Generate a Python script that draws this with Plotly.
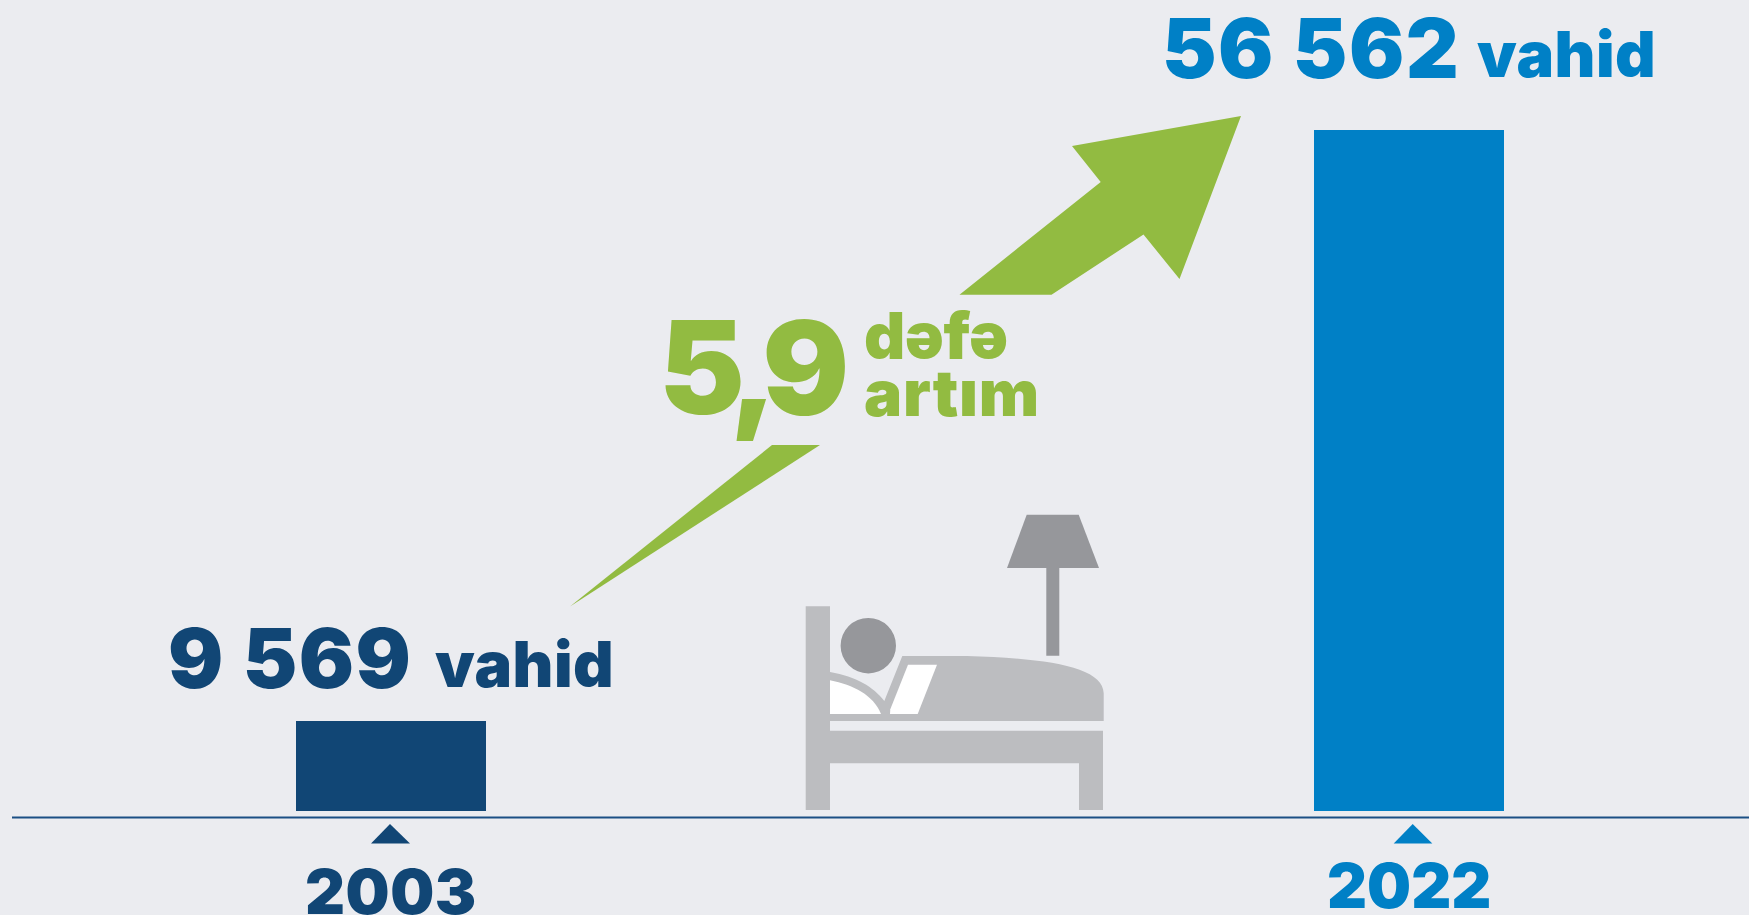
import plotly.graph_objects as go

# ---- data ----
years = [2003, 2022]
units = [9569, 56562]
bar_colors = ["#114675", "#0080C6"]
growth_label = "5,9"
growth_words = ["dəfə", "artım"]
unit_word = "vahid"

BG = "#EBECF0"
NAVY, BLUE = bar_colors
GREEN = "#92BB41"
BED = "#BCBDC0"
DARK = "#96979B"
AXIS = "#1B4F84"
FONT = "Inter"

W, H = 1749, 915
# linear scales fitted to the picture
px_per_year = (1409 - 391) / (years[1] - years[0])
x0 = years[0] - 391 / px_per_year
x1 = x0 + W / px_per_year
units_per_px = (units[1] - units[0]) / (721 - 130)
y_top = units[1] + 130 * units_per_px
y_bot = y_top - H * units_per_px
bar_base = y_top - 811 * units_per_px

fig = go.Figure()
fig.add_trace(go.Bar(x=years, y=[u - bar_base for u in units], base=bar_base,
                     width=190 / px_per_year, marker=dict(color=bar_colors, line_width=0),
                     hoverinfo="skip"))
# invisible overlay in page pixels, only for the decorations
fig.add_trace(go.Scatter(x=[0], y=[0], xaxis="x2", yaxis="y2", mode="markers",
                         marker=dict(opacity=0), hoverinfo="skip"))


def poly(pts, color):
    d = "M " + " L ".join(f"{x},{y}" for x, y in pts) + " Z"
    return dict(type="path", path=d, xref="x2", yref="y2", fillcolor=color, line_width=0)


def bed_pt(x, y):  # bed icon outline measured on a 3x crop
    return f"{780 + x / 3:.1f},{490 + y / 3:.1f}"


blanket = ("M " + bed_pt(150, 546) + " C " + bed_pt(230, 560) + " " + bed_pt(280, 590) + " " + bed_pt(313, 633)
           + " L " + bed_pt(367, 498) + " L " + bed_pt(560, 498)
           + " C " + bed_pt(800, 505) + " " + bed_pt(970, 530) + " " + bed_pt(971, 610)
           + " L " + bed_pt(971, 693) + " L " + bed_pt(150, 693) + " Z")
pillow = ("M " + bed_pt(150, 571) + " C " + bed_pt(220, 585) + " " + bed_pt(280, 615) + " " + bed_pt(303, 672)
          + " L " + bed_pt(150, 672) + " Z")
book = ("M " + bed_pt(384, 524) + " L " + bed_pt(471, 524) + " L " + bed_pt(413, 672)
        + " L " + bed_pt(330, 672) + " L " + bed_pt(331, 658) + " Z")

shapes = [
    dict(type="line", xref="x2", yref="y2", x0=12, x1=W, y0=817.5, y1=817.5, line=dict(color=AXIS, width=2)),
    poly([(371, 843.5), (390, 824), (410, 843.5)], NAVY),
    poly([(1393.7, 843.5), (1412.7, 824), (1432.3, 843.5)], BLUE),
    # growth arrow
    poly([(959.5, 294.7), (1100.7, 182), (1072, 146), (1241, 116), (1179.5, 279), (1143.5, 234.5), (1051.5, 294.7)], GREEN),
    poly([(772, 445), (820, 445), (570, 606.5)], GREEN),
    # bed
    poly([(805.7, 606.3), (830, 606.3), (830, 810), (805.7, 810)], BED),
    poly([(830, 730.7), (1103, 730.7), (1103, 810), (1079, 810), (1079, 763.3), (830, 763.3)], BED),
    dict(type="path", path=blanket, xref="x2", yref="y2", fillcolor=BED, line_width=0),
    dict(type="path", path=pillow, xref="x2", yref="y2", fillcolor="white", line_width=0),
    dict(type="path", path=book, xref="x2", yref="y2", fillcolor="white", line_width=0),
    dict(type="circle", xref="x2", yref="y2", x0=840.6, x1=896, y0=618, y1=673.4, fillcolor=DARK, line_width=0),
    # lamp
    poly([(1026.7, 514.7), (1078.7, 514.7), (1099, 568), (1007, 568)], DARK),
    poly([(1046.3, 568), (1059.3, 568), (1059.3, 655.7), (1046.3, 655.7)], DARK),
]


def label(text, x, y, size, color, anchor="left", xref="x2", spacing=0):
    if spacing:
        text = f'<span style="letter-spacing:{spacing}px">{text}</span>'
    return dict(text=text, x=x, y=y, xref=xref, yref="y2", xanchor=anchor, yanchor="middle",
                showarrow=False, borderpad=0,
                font=dict(family=FONT, size=size, color=color, weight=900))


def num(v):
    return f"{v:,}".replace(",", " ")


annotations = [
    label(num(units[0]), 167, 658, 82, NAVY, spacing=1.5),
    label(unit_word, 433.5, 664, 63, NAVY, spacing=0.5),
    label(num(units[1]), 1160.5, 48, 82, BLUE, spacing=1.5),
    label(unit_word, 1476, 54, 63, BLUE, spacing=0.5),
    label(str(years[0]), years[0], 891, 62, NAVY, "center", "x", spacing=0.5),
    label(str(years[1]), years[1], 885, 62, BLUE, "center", "x"),
    label(growth_label, 658, 367, 129, GREEN, spacing=-13),
    label(growth_words[0], 862.5, 335.5, 64, GREEN, spacing=-0.3),
    label(growth_words[1], 862.5, 392, 64, GREEN, spacing=0.7),
]

hidden = dict(visible=False, fixedrange=True)
fig.update_layout(
    width=W, height=H, margin=dict(l=0, r=0, t=0, b=0, pad=0),
    paper_bgcolor=BG, plot_bgcolor=BG, showlegend=False, bargap=0,
    xaxis=dict(range=[x0, x1], **hidden),
    yaxis=dict(range=[y_bot, y_top], **hidden),
    xaxis2=dict(range=[0, W], overlaying="x", anchor="y2", **hidden),
    yaxis2=dict(range=[H, 0], overlaying="y", anchor="x2", **hidden),
    shapes=shapes, annotations=annotations,
)
fig.write_html("out.html", config=dict(displayModeBar=False),
               post_script="document.body.style.margin='0';document.body.style.overflow='hidden';")
